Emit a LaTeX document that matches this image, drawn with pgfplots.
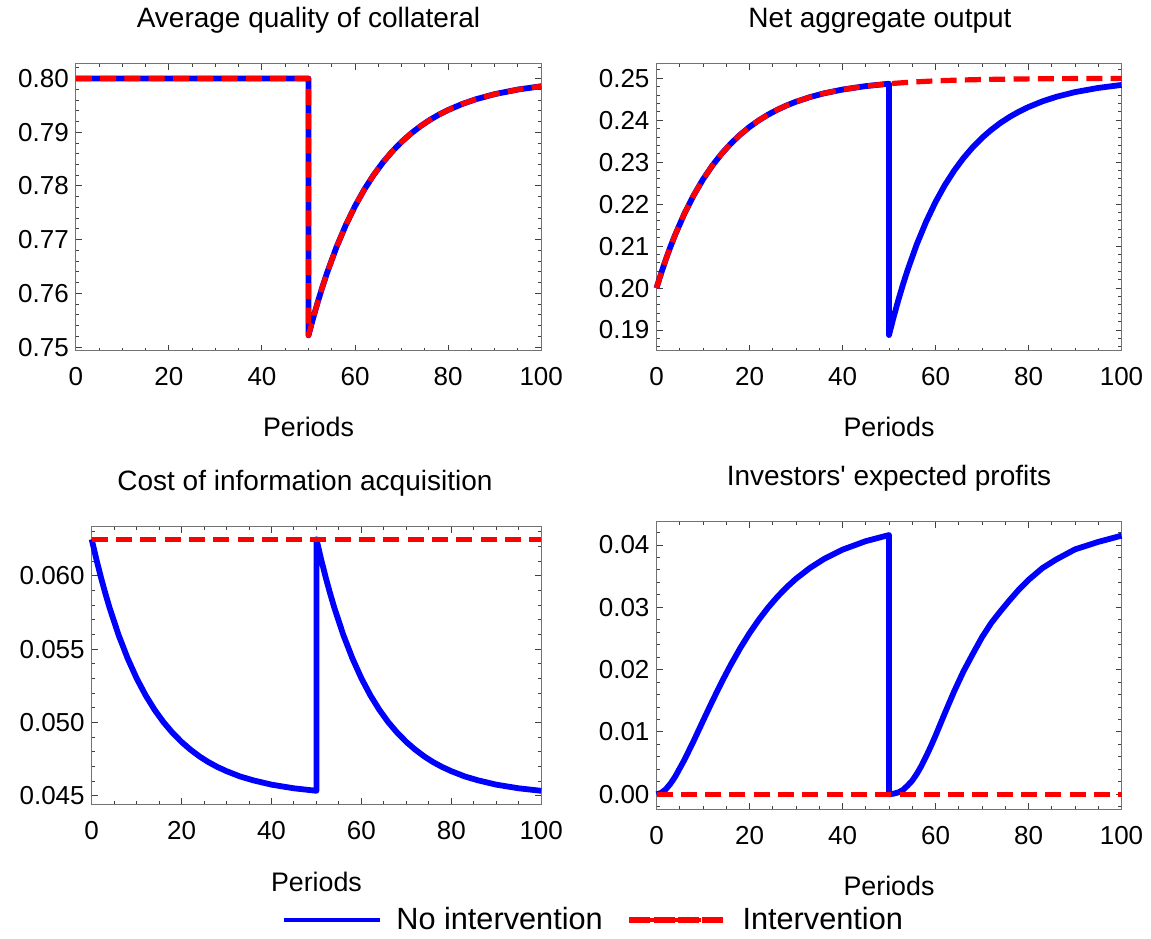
\documentclass[border=0pt]{standalone}
\usepackage{fontspec}
\setmainfont{Liberation Sans}
\usepackage{pgfplots}
\pgfplotsset{compat=1.18}
\pgfplotsset{
  panel/.style={
    scale only axis,
    xmin=0, xmax=100,
    xtick={0,20,40,60,80,100},
    minor xtick={0,5,...,100},
    tick align=inside,
    major tick length=3pt,
    minor tick length=1.7pt,
    axis line style={black!55, line width=0.5pt},
    tick style={black!75, line width=0.5pt},
    /pgf/number format/assume math mode=true,
    scaled y ticks=false,
    tick label style={font=\fontsize{13}{15}\selectfont, black},
    xticklabel style={anchor=base, yshift=-17.5pt},
    yticklabel style={/pgf/number format/fixed, /pgf/number format/fixed zerofill},
    title style={font=\fontsize{14}{17}\selectfont, at={(0.5,1)}, anchor=base, yshift=12pt},
    xlabel={Periods},
    xlabel style={font=\fontsize{13.4}{16}\selectfont, at={(0.5,0)}, anchor=base},
    clip=false,
  },
  blueline/.style={blue, line width=2.9pt, line join=round},
  redline/.style={red, line width=2.6pt, line join=round, dash pattern=on 8pt off 4.15pt},
}
\begin{document}
\begin{tikzpicture}
\path[use as bounding box] (0,0) rectangle (575.5pt,469pt);

% Panel 1
\begin{axis}[panel,
  at={(37.9pt,293.5pt)}, anchor=south west,
  width=232.7pt, height=143.5pt,
  ymin=0.7493, ymax=0.8027,
  ytick={0.75,0.76,0.77,0.78,0.79,0.80},
  minor ytick={0.750,0.752,...,0.802},
  yticklabel style={/pgf/number format/precision=2},
  title={Average quality of collateral},
  xlabel style={yshift=-42.85pt},
]
\addplot[blueline] coordinates {(0,0.80)(50,0.80)(50,0.7522)(51,0.75543)(52,0.75844)(53,0.76125)(54,0.76387)(56,0.76860)(58,0.77270)(60,0.77626)(62,0.77936)(64,0.78206)(66,0.78440)(68,0.78644)(70,0.78821)(72,0.78975)(74,0.79109)(76,0.79226)(78,0.79327)(80,0.79414)(83,0.79525)(86,0.79615)(90,0.79709)(95,0.79795)(100,0.79856)};
\addplot[redline] coordinates {(0,0.80)(50,0.80)(50,0.7522)(51,0.75543)(52,0.75844)(53,0.76125)(54,0.76387)(56,0.76860)(58,0.77270)(60,0.77626)(62,0.77936)(64,0.78206)(66,0.78440)(68,0.78644)(70,0.78821)(72,0.78975)(74,0.79109)(76,0.79226)(78,0.79327)(80,0.79414)(83,0.79525)(86,0.79615)(90,0.79709)(95,0.79795)(100,0.79856)};
\end{axis}

% Panel 2
\begin{axis}[panel,
  at={(328.25pt,293.5pt)}, anchor=south west,
  width=232.5pt, height=143.5pt,
  ymin=0.185, ymax=0.2534,
  ytick={0.19,0.20,0.21,0.22,0.23,0.24,0.25},
  minor ytick={0.186,0.188,...,0.252},
  yticklabel style={/pgf/number format/precision=2},
  title={Net aggregate output},
  title style={xshift=-4.5pt},
  xlabel style={yshift=-42.85pt},
]
\addplot[blueline] coordinates {(0,0.2000)(1,0.20352)(2,0.20680)(3,0.20984)(4,0.21266)(6,0.21774)(8,0.22211)(10,0.22591)(12,0.22918)(14,0.23201)(16,0.23445)(18,0.23656)(20,0.23839)(22,0.23997)(24,0.24133)(26,0.24251)(28,0.24353)(30,0.24441)(33,0.24551)(36,0.24640)(40,0.24731)(45,0.24813)(50,0.24870)(50,0.18880)(51,0.19311)(52,0.19712)(53,0.20084)(54,0.20430)(56,0.21051)(58,0.21586)(60,0.22051)(62,0.22452)(64,0.22797)(66,0.23097)(68,0.23355)(70,0.23579)(72,0.23772)(74,0.23939)(76,0.24083)(78,0.24207)(80,0.24315)(83,0.24450)(86,0.24559)(90,0.24670)(95,0.24770)(100,0.24841)};
\addplot[redline] coordinates {(0,0.2000)(1,0.20352)(2,0.20680)(3,0.20984)(4,0.21266)(6,0.21774)(8,0.22211)(10,0.22591)(12,0.22918)(14,0.23201)(16,0.23445)(18,0.23656)(20,0.23839)(22,0.23997)(24,0.24133)(26,0.24251)(28,0.24353)(30,0.24441)(33,0.24551)(36,0.24640)(40,0.24731)(45,0.24813)(50,0.24870)(55,0.24910)(60,0.24938)(65,0.24957)(70,0.24970)(75,0.24979)(80,0.24985)(90,0.24993)(100,0.24997)};
\end{axis}

% Panel 3
\begin{axis}[panel,
  at={(45.85pt,66.85pt)}, anchor=south west,
  width=224.75pt, height=138.8pt,
  ymin=0.04443, ymax=0.06336,
  ytick={0.045,0.050,0.055,0.060},
  minor ytick={0.045,0.046,...,0.063},
  yticklabel style={/pgf/number format/precision=3},
  title={Cost of information acquisition},
  title style={xshift=-5.75pt},
  xlabel style={yshift=-43.7pt},
]
\addplot[blueline] coordinates {(0,0.06250)(1,0.06119)(2,0.05997)(3,0.05885)(4,0.05781)(6,0.05596)(8,0.05438)(10,0.05302)(12,0.05186)(14,0.05087)(16,0.05002)(18,0.04930)(20,0.04868)(22,0.04815)(24,0.04769)(26,0.04730)(28,0.04697)(30,0.04669)(33,0.04633)(36,0.04606)(40,0.04577)(45,0.04552)(50,0.04535)(50,0.06250)(51,0.06119)(52,0.05997)(53,0.05885)(54,0.05781)(56,0.05596)(58,0.05438)(60,0.05302)(62,0.05186)(64,0.05087)(66,0.05002)(68,0.04930)(70,0.04868)(72,0.04815)(74,0.04769)(76,0.04730)(78,0.04697)(80,0.04669)(83,0.04633)(86,0.04606)(90,0.04577)(95,0.04552)(100,0.04535)};
\addplot[redline] coordinates {(0,0.0625)(100,0.0625)};
\end{axis}

% Panel 4
\begin{axis}[panel,
  at={(328.25pt,64.5pt)}, anchor=south west,
  width=232.5pt, height=143.65pt,
  ymin=-0.00236, ymax=0.04374,
  ytick={0,0.01,0.02,0.03,0.04},
  minor ytick={-0.002,0.0,...,0.042},
  yticklabel style={/pgf/number format/precision=2},
  title={Investors\textquotesingle\ expected profits},
  xlabel style={yshift=-43pt},
  legend columns=2,
  legend style={at={(-0.1371,-0.3864)}, anchor=center, draw=none, fill=none,
    font=\fontsize{15.35}{18}\selectfont, nodes={inner sep=0pt},
    inner xsep=0pt, inner ysep=0pt,
    /tikz/every odd column/.append style={column sep=7.5pt},
    /tikz/every even column/.append style={column sep=12pt}},
]
\addplot[blueline, legend image code/.code={\draw[blue, line width=1.65pt, solid] (0pt,0pt) -- (47.75pt,0pt);}] coordinates {(0,0)(1,0.00022)(2,0.00081)(3,0.00170)(4,0.00281)(6,0.00552)(8,0.00857)(10,0.01177)(12,0.01493)(14,0.01797)(16,0.02082)(18,0.02345)(20,0.02585)(22,0.02801)(24,0.02996)(26,0.03169)(28,0.03323)(30,0.03459)(33,0.03632)(36,0.03775)(40,0.03925)(45,0.04062)(50,0.04160)(50,0)(51,0.0001)(52,0.0003)(53,0.0007)(54,0.0014)(55,0.0022)(56,0.0033)(57,0.0046)(58,0.0061)(59,0.0077)(60,0.0094)(62,0.0130)(64,0.0165)(66,0.0197)(68,0.0225)(70,0.0252)(72,0.0275)(74,0.0294)(76,0.0312)(78,0.0329)(80,0.0344)(83,0.0363)(86,0.0377)(90,0.0393)(95,0.0405)(100,0.0415)};
\addlegendentry{No intervention}
\addplot[redline, legend image code/.code={\draw[red, line width=1.65pt, dash pattern=on 6.5pt off 3.25pt] (0pt,0pt) -- (45.5pt,0pt); \useasboundingbox (0pt,0pt) rectangle (47.75pt,0pt);}] coordinates {(0,0)(100,0)};
\addlegendentry{Intervention}
\end{axis}
\end{tikzpicture}
\end{document}
